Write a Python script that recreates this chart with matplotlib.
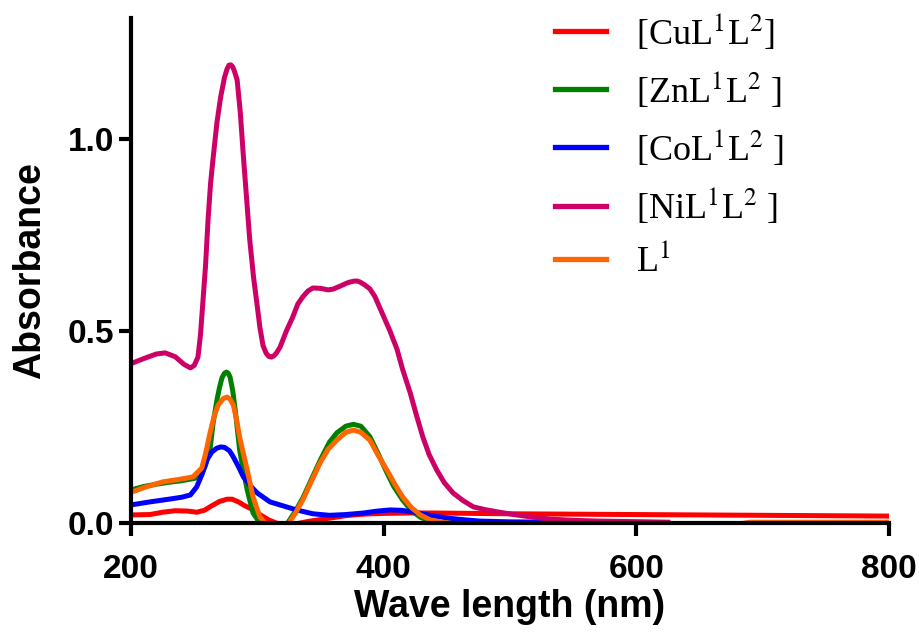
"""
UV-Vis absorbance spectra of L1 and its M(L1)(L2) complexes.
Saves out.png (920x632).
"""
import matplotlib
matplotlib.use("Agg")
import matplotlib.pyplot as plt
from matplotlib.lines import Line2D

# ── data ────────────────────────────────────────────────────────────────
wl_cu = [200, 215, 225, 235, 245, 252, 258, 264, 270, 276, 280, 285, 290, 297,
         303, 309, 315, 320, 328, 334, 340, 350, 360, 370, 380, 390, 400, 420,
         440, 470, 500, 550, 600, 650, 700, 750, 800]
a_cu = [0.021, 0.022, 0.028, 0.032, 0.031, 0.028, 0.033, 0.045, 0.056, 0.062,
        0.062, 0.055, 0.045, 0.034, 0.020, 0.008, 0.000, -0.005, -0.004, 0.000,
        0.004, 0.009, 0.014, 0.019, 0.022, 0.024, 0.025, 0.026, 0.026, 0.025,
        0.024, 0.023, 0.022, 0.021, 0.020, 0.019, 0.018]

wl_zn = [200, 210, 220, 230, 240, 250, 255, 259, 262.5, 265, 268, 270, 272, 274,
         275.5, 277, 278.4, 280.5, 282.5, 286, 289, 292, 296.6, 302, 310, 318,
         324, 330, 336, 343, 350, 357, 363, 370, 376, 382, 389, 395, 402, 408,
         415, 422, 429, 437, 450, 470, 600, 800]
a_zn = [0.086, 0.095, 0.101, 0.106, 0.110, 0.116, 0.120, 0.150, 0.190, 0.260,
        0.320, 0.352, 0.378, 0.390, 0.393, 0.390, 0.380, 0.345, 0.294, 0.190,
        0.135, 0.086, 0.026, 0.000, -0.030, -0.020, 0.000, 0.030, 0.065, 0.115,
        0.165, 0.210, 0.235, 0.252, 0.257, 0.252, 0.225, 0.185, 0.135, 0.095,
        0.060, 0.032, 0.015, 0.004, -0.001, -0.002, -0.002, -0.002]

wl_co = [200, 215, 230, 240, 247, 252, 256, 260, 264, 268, 271, 274, 278, 281,
         285, 289, 295, 300, 310, 318, 331, 344, 357, 370, 384, 395, 405, 414,
         423, 435, 450, 465, 476, 500, 540, 560, 580, 800]
a_co = [0.047, 0.055, 0.062, 0.067, 0.073, 0.094, 0.125, 0.164, 0.185, 0.195,
        0.198, 0.197, 0.188, 0.172, 0.147, 0.120, 0.095, 0.078, 0.055, 0.047,
        0.034, 0.024, 0.020, 0.022, 0.026, 0.031, 0.034, 0.033, 0.029, 0.021,
        0.013, 0.008, 0.005, 0.003, 0.002, 0.001, -0.002, -0.002]

wl_ni = [200, 210, 220, 227, 235, 242, 247, 250, 253, 255, 257, 259, 261, 263,
         265, 268, 271, 274, 276, 277.5, 279, 280.5, 282, 284, 286.5, 289, 291.5,
         294, 297, 300, 302, 304.5, 307, 309, 311, 313, 315, 318, 323, 328, 332,
         336, 340, 344, 350, 356, 360, 365, 371, 374, 377, 379, 381, 385, 389,
         393, 397, 401, 405, 410.6, 415, 421, 426, 431, 436, 442, 448, 455, 463,
         471, 480, 490, 503, 516, 532, 550, 570, 590, 610, 627]
a_ni = [0.415, 0.428, 0.440, 0.443, 0.433, 0.413, 0.404, 0.410, 0.432, 0.490,
        0.580, 0.670, 0.790, 0.885, 0.950, 1.042, 1.110, 1.160, 1.182, 1.192,
        1.193, 1.188, 1.175, 1.154, 1.070, 0.953, 0.845, 0.737, 0.640, 0.563,
        0.510, 0.462, 0.442, 0.434, 0.432, 0.435, 0.442, 0.458, 0.500, 0.536,
        0.570, 0.589, 0.604, 0.612, 0.611, 0.607, 0.609, 0.616, 0.625, 0.628,
        0.630, 0.630, 0.628, 0.620, 0.610, 0.590, 0.560, 0.530, 0.500, 0.452,
        0.400, 0.339, 0.280, 0.224, 0.178, 0.138, 0.105, 0.078, 0.058, 0.042,
        0.035, 0.029, 0.022, 0.016, 0.010, 0.007, 0.005, 0.004, 0.003, 0.002]

wl_l1 = [200, 212, 225, 237, 249, 256, 259, 262.5, 266, 269, 273, 276, 278.5, 281,
         283.5, 286, 289, 292, 296.6, 302, 306, 315, 325, 330, 336, 343, 349.6,
         356, 363, 370, 376, 382, 389, 395, 402.5, 409, 415, 422, 429, 437, 450,
         460, 680, 690, 800]
a_l1 = [0.080, 0.094, 0.107, 0.113, 0.120, 0.143, 0.180, 0.234, 0.280, 0.307,
        0.324, 0.328, 0.322, 0.307, 0.270, 0.224, 0.180, 0.138, 0.068, 0.016,
        0.000, -0.030, 0.000, 0.025, 0.060, 0.110, 0.156, 0.192, 0.216, 0.236,
        0.242, 0.236, 0.216, 0.180, 0.138, 0.100, 0.068, 0.040, 0.021, 0.008,
        0.000, -0.003, -0.003, 0.002, 0.002]

labels = ["[CuL$^{1}$L$^{2}$]", "[ZnL$^{1}$L$^{2}$ ]", "[CoL$^{1}$L$^{2}$ ]",
          "[NiL$^{1}$L$^{2}$ ]", "L$^{1}$"]
colors = ["#FF0000", "#008000", "#0000FF", "#CC0066", "#FF6600"]

x_ticks = [200, 400, 600, 800]
y_ticks = [0.0, 0.5, 1.0]

# ── style ───────────────────────────────────────────────────────────────
plt.rcParams.update({
    "font.family": "Liberation Sans",
    "font.weight": "normal",
    "mathtext.fontset": "stix",
})

fig = plt.figure(figsize=(9.2, 6.32), dpi=100)
ax = fig.add_axes([131 / 920, 1 - 523 / 632, 758 / 920, 505 / 632])

series = [(wl_cu, a_cu), (wl_zn, a_zn), (wl_co, a_co), (wl_ni, a_ni), (wl_l1, a_l1)]
for (x, y), c in zip(series, colors):
    ax.plot(x, y, color=c, lw=3.6, solid_capstyle="butt",
            solid_joinstyle="round", zorder=2)

ax.set_xlim(200, 800)
ax.set_ylim(0, 1.315)
ax.set_xticks(x_ticks)
ax.set_yticks(y_ticks)
ax.set_yticklabels([f"{v:.1f}" for v in y_ticks])

for s in ["top", "right"]:
    ax.spines[s].set_visible(False)
for s in ["left", "bottom"]:
    ax.spines[s].set_linewidth(3.0)
    ax.spines[s].set_zorder(3)

ax.tick_params(axis="both", direction="out", length=9, width=3.0,
               labelsize=24, color="black")
ax.tick_params(axis="y", pad=3)
ax.tick_params(axis="x", pad=13)
for lab in ax.get_xticklabels() + ax.get_yticklabels():
    lab.set_fontweight("bold")

ax.set_xlabel("Wave length (nm)", fontsize=27, fontweight="bold", labelpad=3)
ax.set_ylabel("Absorbance", fontsize=27, fontweight="bold", labelpad=14)

# ── legend (no frame, serif labels) ─────────────────────────────────────
handles = [Line2D([0], [0], color=c, lw=3.8) for c in colors]
ax.legend(handles, labels, loc="upper left",
          bbox_to_anchor=(555 / 920, 1 - 12 / 632), bbox_transform=fig.transFigure,
          frameon=False, borderpad=0, borderaxespad=0,
          handlelength=1.4, handletextpad=0.85, labelspacing=0.5,
          prop={"family": "Liberation Serif", "size": 26, "weight": "normal"})

fig.savefig("out.png", dpi=100)
